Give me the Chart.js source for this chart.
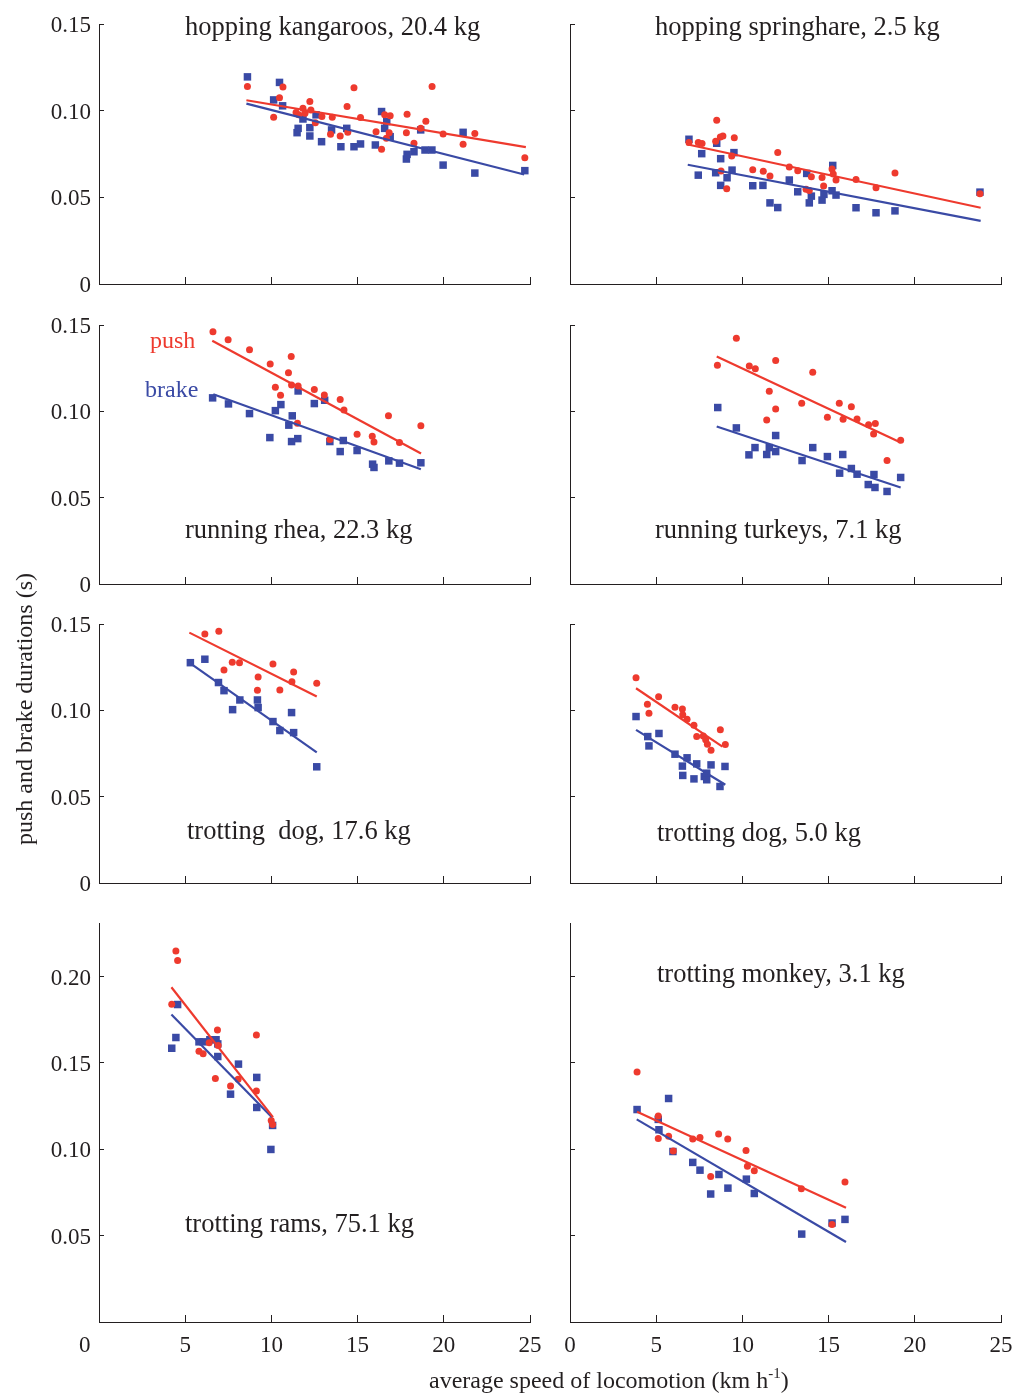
<!DOCTYPE html>
<html>
<head>
<meta charset="utf-8">
<script src="https://cdn.jsdelivr.net/npm/chart.js@4.4.1/dist/chart.umd.min.js"></script>
<style>
  body { margin: 0; background: #fff; width: 1015px; height: 1393px; position: relative; overflow: hidden; font-family: "Liberation Serif", "Times New Roman", serif; }
  canvas { position: absolute; }
  .lbl { position: absolute; font-size: 26.5px; line-height: 26.5px; white-space: pre; color: #231f20; z-index: 2; }
  .sm { font-size: 24px; line-height: 24px; }
  .sup { font-size: 15px; position: relative; top: -10px; }
</style>
</head>
<body>
<canvas id="p1" width="545" height="300" style="left:0;top:0"></canvas>
<canvas id="p2" width="470" height="300" style="left:545px;top:0"></canvas>
<canvas id="p3" width="545" height="300" style="left:0;top:300px"></canvas>
<canvas id="p4" width="470" height="300" style="left:545px;top:300px"></canvas>
<canvas id="p5" width="545" height="300" style="left:0;top:600px"></canvas>
<canvas id="p6" width="470" height="300" style="left:545px;top:600px"></canvas>
<canvas id="p7" width="545" height="493" style="left:0;top:900px"></canvas>
<canvas id="p8" width="470" height="493" style="left:545px;top:900px"></canvas>

<div class="lbl" style="left:185px;top:13px">hopping kangaroos, 20.4 kg</div>
<div class="lbl" style="left:655px;top:13px">hopping springhare, 2.5 kg</div>
<div class="lbl" style="left:185px;top:516px">running rhea, 22.3 kg</div>
<div class="lbl" style="left:655px;top:516px">running turkeys, 7.1 kg</div>
<div class="lbl" style="left:187px;top:817px">trotting  dog, 17.6 kg</div>
<div class="lbl" style="left:657px;top:819px">trotting dog, 5.0 kg</div>
<div class="lbl" style="left:185px;top:1210px">trotting rams, 75.1 kg</div>
<div class="lbl" style="left:657px;top:960px">trotting monkey, 3.1 kg</div>
<div class="lbl sm" style="left:150px;top:328px;color:#ee3a2e">push</div>
<div class="lbl sm" style="left:145px;top:377px;color:#3a4aa5">brake</div>
<div class="lbl sm" style="left:429px;top:1368px">average speed of locomotion (km h<span class="sup">-1</span>)</div>
<div class="lbl sm" style="left:-176px;top:697px;width:400px;text-align:center;transform:rotate(-90deg)">push and brake durations (s)</div>

<script>
const RED = '#ee3a2e';
const BLUE = '#3a4aa5';
const AXIS = '#231f20';

// x = speed (km/h), y = duration (s)
const kangarooBrake = [[8.61,0.1195],[10.47,0.1163],[10.13,0.1062],[10.65,0.1028],[11.49,0.0873],[11.55,0.0898],[11.83,0.0952],[12.23,0.0902],[12.23,0.0854],[12.59,0.0976],[12.91,0.0821],[13.49,0.0889],[14.03,0.0792],[14.37,0.0898],[14.79,0.0792],[15.17,0.0808],[16.03,0.0802],[16.39,0.0995],[16.57,0.0898],[16.69,0.0937],[16.89,0.0850],[17.83,0.0721],[17.87,0.0748],[18.27,0.0763],[18.66,0.0889],[18.91,0.0773],[19.31,0.0773],[19.96,0.0686],[21.12,0.0875],[21.80,0.0640],[24.70,0.0654]];
const kangarooPush = [[8.61,0.1139],[10.13,0.0962],[10.47,0.1074],[10.67,0.1137],[11.43,0.0989],[11.59,0.0976],[11.83,0.1014],[11.95,0.0985],[12.23,0.1053],[12.29,0.1004],[12.55,0.0931],[12.93,0.0966],[13.43,0.0864],[13.53,0.0962],[13.99,0.0854],[14.39,0.1024],[14.43,0.0875],[14.79,0.1132],[15.17,0.0960],[16.07,0.0879],[16.39,0.0777],[16.57,0.0976],[16.67,0.0841],[16.89,0.0970],[16.83,0.0873],[17.83,0.0873],[17.87,0.0979],[18.27,0.0812],[18.66,0.0898],[18.96,0.0939],[19.32,0.1139],[19.96,0.0866],[21.12,0.0806],[21.80,0.0868],[24.70,0.0729]];
const kangarooPushFit = [[8.55,0.1060],[24.76,0.0790]];
const kangarooBrakeFit = [[8.55,0.1041],[24.66,0.0632]];

const springhareBrake = [[6.90,0.0835],[8.51,0.0812],[7.64,0.0752],[7.44,0.0628],[8.45,0.0642],[8.74,0.0723],[9.51,0.0758],[9.40,0.0657],[9.11,0.0613],[8.74,0.0569],[10.60,0.0567],[11.19,0.0569],[11.60,0.0468],[12.05,0.0441],[12.72,0.0600],[13.21,0.0532],[13.73,0.0638],[13.88,0.0468],[14.00,0.0507],[14.62,0.0484],[14.73,0.0517],[15.24,0.0684],[15.20,0.0538],[15.43,0.0513],[16.59,0.0440],[17.75,0.0411],[18.85,0.0422],[23.78,0.0530]];
const springharePush = [[6.90,0.0817],[7.44,0.0817],[7.66,0.0810],[8.51,0.0945],[8.45,0.0823],[8.72,0.0848],[8.87,0.0854],[9.53,0.0844],[9.38,0.0738],[8.76,0.0652],[9.09,0.0549],[10.60,0.0659],[11.21,0.0650],[11.60,0.0623],[12.05,0.0758],[12.72,0.0675],[13.21,0.0654],[13.69,0.0546],[13.88,0.0540],[14.00,0.0619],[14.62,0.0615],[14.71,0.0565],[15.20,0.0663],[15.27,0.0634],[15.43,0.0600],[16.59,0.0603],[17.75,0.0555],[18.85,0.0640],[23.78,0.0521]];
const springharePushFit = [[6.77,0.0806],[23.82,0.0440]];
const springhareBrakeFit = [[6.83,0.0688],[23.82,0.0364]];

const rheaPush = [[6.61,0.1461],[7.49,0.1415],[8.73,0.1357],[9.93,0.1274],[11.15,0.1317],[10.99,0.1224],[10.23,0.1139],[10.53,0.1093],[11.17,0.1153],[11.55,0.1147],[12.49,0.1126],[13.07,0.1095],[13.99,0.1068],[14.21,0.1008],[11.51,0.0931],[13.39,0.0837],[14.97,0.0868],[15.85,0.0856],[15.95,0.0823],[16.79,0.0974],[17.43,0.0819],[18.67,0.0916]];
const rheaBrake = [[6.59,0.1078],[7.51,0.1043],[8.73,0.0987],[9.91,0.0848],[10.23,0.1004],[10.55,0.1039],[11.01,0.0920],[11.21,0.0974],[11.17,0.0825],[11.53,0.0842],[11.55,0.1118],[12.49,0.1045],[13.09,0.1064],[13.39,0.0825],[14.17,0.0831],[13.99,0.0767],[14.97,0.0773],[15.87,0.0694],[15.95,0.0675],[16.81,0.0713],[17.43,0.0700],[18.67,0.0702]];
const rheaPushFit = [[6.57,0.1409],[18.68,0.0756]];
const rheaBrakeFit = [[6.63,0.1099],[18.67,0.0665]];

const turkeyPush = [[8.55,0.1267],[9.65,0.1423],[10.40,0.1263],[10.75,0.1247],[11.93,0.1294],[11.56,0.1116],[11.93,0.1014],[11.41,0.0950],[13.44,0.1047],[14.08,0.1226],[14.93,0.0966],[15.62,0.1047],[16.32,0.1026],[15.84,0.0954],[16.65,0.0956],[17.32,0.0923],[17.71,0.0929],[17.61,0.0869],[18.39,0.0715],[19.18,0.0833]];
const turkeyBrake = [[8.57,0.1022],[9.65,0.0904],[10.38,0.0748],[10.73,0.0790],[11.41,0.0750],[11.56,0.0790],[11.93,0.0860],[11.93,0.0767],[13.46,0.0715],[14.08,0.0790],[14.93,0.0738],[15.82,0.0750],[15.64,0.0642],[16.32,0.0669],[16.65,0.0636],[17.30,0.0576],[17.63,0.0634],[17.69,0.0559],[18.39,0.0536],[19.18,0.0617]];
const turkeyPushFit = [[8.51,0.1317],[19.18,0.0819]];
const turkeyBrakeFit = [[8.51,0.0912],[19.18,0.0559]];

const bigDogPush = [[5.30,0.1552],[6.14,0.1442],[6.95,0.1458],[7.25,0.1234],[7.73,0.1278],[8.15,0.1276],[9.23,0.1193],[9.19,0.1116],[10.09,0.1269],[10.49,0.1118],[11.29,0.1222],[11.19,0.1166],[12.63,0.1157]];
const bigDogBrake = [[5.30,0.1276],[6.14,0.1296],[6.93,0.1161],[7.25,0.1114],[7.75,0.1004],[8.17,0.1060],[9.19,0.1060],[9.23,0.1016],[10.09,0.0935],[10.49,0.0883],[11.17,0.0987],[11.29,0.0871],[12.63,0.0673]];
const bigDogPushFit = [[5.24,0.1450],[12.63,0.1080]];
const bigDogBrakeFit = [[5.24,0.1276],[12.63,0.0756]];

const smallDogPush = [[3.83,0.1188],[4.49,0.1035],[5.14,0.1078],[4.58,0.0983],[6.09,0.1018],[6.52,0.1008],[6.54,0.0974],[6.79,0.0949],[7.19,0.0914],[7.35,0.0848],[7.73,0.0852],[7.87,0.0829],[7.97,0.0804],[8.18,0.0769],[8.72,0.0887],[9.01,0.0802]];
const smallDogBrake = [[3.83,0.0964],[4.51,0.0848],[4.58,0.0794],[5.16,0.0866],[6.09,0.0746],[6.79,0.0725],[6.52,0.0677],[6.54,0.0623],[7.35,0.0690],[7.19,0.0603],[7.79,0.0617],[7.93,0.0598],[7.93,0.0636],[8.18,0.0684],[8.70,0.0559],[8.99,0.0675]];
const smallDogPushFit = [[3.83,0.1128],[8.84,0.0790]];
const smallDogBrakeFit = [[3.83,0.0887],[9.01,0.0569]];

const ramPush = [[4.46,0.2148],[4.56,0.2093],[4.22,0.1840],[6.87,0.1691],[6.39,0.1616],[6.91,0.1601],[5.80,0.1568],[6.04,0.1553],[6.75,0.1410],[7.63,0.1367],[8.07,0.1406],[9.13,0.1662],[9.13,0.1337],[9.99,0.1167],[10.07,0.1144]];
const ramBrake = [[4.22,0.1585],[4.46,0.1647],[4.56,0.1838],[5.80,0.1622],[6.04,0.1622],[6.43,0.1634],[6.79,0.1634],[6.89,0.1610],[6.89,0.1537],[7.63,0.1319],[8.09,0.1493],[9.15,0.1416],[9.15,0.1242],[10.07,0.1138],[9.97,0.0999]];
const ramPushFit = [[4.20,0.1938],[10.09,0.1186]];
const ramBrakeFit = [[4.20,0.1780],[10.03,0.1186]];

const monkeyPush = [[3.89,0.1448],[5.12,0.1192],[5.12,0.1063],[5.72,0.1076],[5.99,0.0990],[7.12,0.1059],[7.54,0.1068],[8.62,0.1088],[9.15,0.1059],[8.16,0.0843],[10.21,0.0993],[10.29,0.0901],[10.69,0.0876],[13.42,0.0771],[15.20,0.0565],[15.95,0.0810]];
const monkeyBrake = [[3.89,0.1230],[5.72,0.1294],[5.12,0.1173],[5.16,0.1113],[5.97,0.0987],[7.12,0.0924],[7.54,0.0879],[8.64,0.0854],[8.16,0.0741],[9.16,0.0775],[10.23,0.0827],[10.69,0.0744],[13.44,0.0509],[15.20,0.0573],[15.95,0.0594]];
const monkeyPushFit = [[3.89,0.1217],[16.01,0.0662]];
const monkeyBrakeFit = [[3.87,0.1173],[16.01,0.0463]];

const xTicks = [0, 5, 10, 15, 20, 25];

function pts(arr) {
  return arr.map(p => ({ x: p[0], y: p[1] }));
}

function noPad(s) {
  s.paddingTop = 0; s.paddingBottom = 0; s.paddingLeft = 0; s.paddingRight = 0;
}

// o.left: left column (y labels shown); o.bottom: bottom row (x labels shown)
function panel(id, push, brake, pushFit, brakeFit, o) {
  new Chart(document.getElementById(id), {
    type: 'scatter',
    data: {
      datasets: [
        { data: pts(pushFit), showLine: true, borderColor: RED, borderWidth: 2.2, pointRadius: 0, order: 0, clip: false },
        { data: pts(brakeFit), showLine: true, borderColor: BLUE, borderWidth: 2.2, pointRadius: 0, order: 1, clip: false },
        { data: pts(push), pointStyle: 'circle', pointRadius: 3.5, backgroundColor: RED, borderWidth: 0, order: 2, clip: false },
        { data: pts(brake), pointStyle: 'rect', pointRadius: 5.3, backgroundColor: BLUE, borderWidth: 0, order: 3, clip: false }
      ]
    },
    options: {
      responsive: false,
      animation: false,
      events: [],
      layout: { padding: { top: o.top, right: o.right, left: 0, bottom: 0 } },
      plugins: { legend: { display: false }, tooltip: { enabled: false } },
      scales: {
        x: {
          type: 'linear', min: 0, max: 25,
          afterBuildTicks: s => { s.ticks = xTicks.map(v => ({ value: v })); },
          afterFit: s => { s.height = o.xh; noPad(s); },
          ticks: {
            display: o.bottom, padding: 17, color: AXIS, font: { family: 'Liberation Serif', size: 23 },
            // the 0 under the left panel sits clear of the y axis
            callback: v => (v === 0 && o.left ? '0     ' : String(v))
          },
          grid: { drawOnChartArea: false, tickLength: -7, color: AXIS, lineWidth: 1 },
          border: { color: AXIS, width: 1 }
        },
        y: {
          type: 'linear', min: 0, max: o.ymax,
          afterFit: s => { s.width = o.yw; noPad(s); },
          ticks: {
            display: o.left, stepSize: 0.05, includeBounds: false, padding: 13, labelOffset: 2, color: AXIS,
            font: { family: 'Liberation Serif', size: 23 },
            callback: v => (v === 0 ? (o.bottom ? '' : '0') : v.toFixed(2))
          },
          grid: { drawOnChartArea: false, tickLength: -5, color: AXIS, lineWidth: 1 },
          border: { color: AXIS, width: 1 }
        }
      }
    }
  });
}

const L = { left: true, yw: 99, right: 15 };
const R = { left: false, yw: 25, right: 14 };

panel('p1', kangarooPush, kangarooBrake, kangarooPushFit, kangarooBrakeFit, { ...L, top: 24, xh: 16, ymax: 0.15, bottom: false });
panel('p2', springharePush, springhareBrake, springharePushFit, springhareBrakeFit, { ...R, top: 24, xh: 16, ymax: 0.15, bottom: false });
panel('p3', rheaPush, rheaBrake, rheaPushFit, rheaBrakeFit, { ...L, top: 25, xh: 16, ymax: 0.15, bottom: false });
panel('p4', turkeyPush, turkeyBrake, turkeyPushFit, turkeyBrakeFit, { ...R, top: 25, xh: 16, ymax: 0.15, bottom: false });
panel('p5', bigDogPush, bigDogBrake, bigDogPushFit, bigDogBrakeFit, { ...L, top: 24, xh: 17, ymax: 0.15, bottom: false });
panel('p6', smallDogPush, smallDogBrake, smallDogPushFit, smallDogBrakeFit, { ...R, top: 24, xh: 17, ymax: 0.15, bottom: false });
panel('p7', ramPush, ramBrake, ramPushFit, ramBrakeFit, { ...L, top: 23, xh: 71, ymax: 0.231, bottom: true });
panel('p8', monkeyPush, monkeyBrake, monkeyPushFit, monkeyBrakeFit, { ...R, top: 23, xh: 71, ymax: 0.231, bottom: true });
</script>
</body>
</html>
